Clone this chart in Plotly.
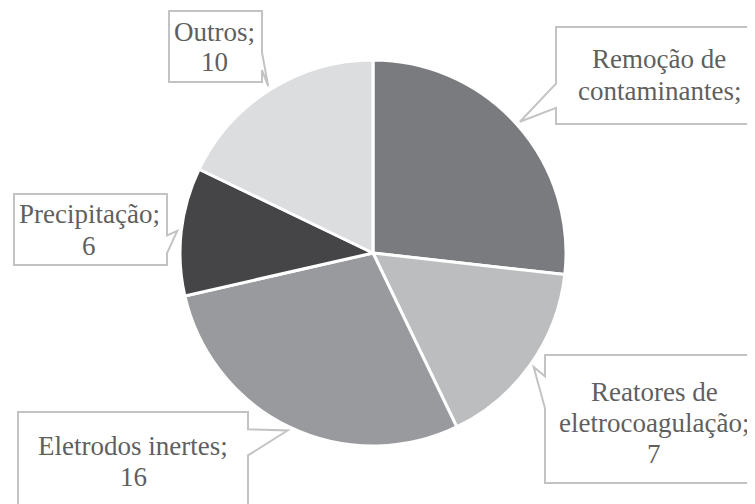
import math
import plotly.graph_objects as go

# ---- data ----
categories = ["Remoção de contaminantes", "Reatores de eletrocoagulação",
              "Eletrodos inertes", "Precipitação", "Outros"]
slice_values = [15, 9, 16, 6, 10]          # slice sizes as drawn
label_lines = [["Remoção de", "contaminantes;"],
               ["Reatores de", "eletrocoagulação;", "7"],
               ["Eletrodos inertes;", "16"],
               ["Precipitação;", "6"],
               ["Outros;", "10"]]
colors = ["#7a7b7e", "#bcbdbf", "#989a9d", "#454547", "#dcdddf"]

# ---- layout (page pixels; the page body adds an 8px offset) ----
OFF = 8
W, H = 755 - OFF, 504 - OFF
CX, CY, R = 373, 253, 193
boxes = [(556, 27, 772, 124), (545, 355, 772, 483), (18, 412, 248, 516),
         (14, 194, 167, 265), (169, 11, 262, 82)]
text_x = [659, 654, 133, 89, 214]
first_baseline = [68, 401.5, 455, 223, 41.5]
line_step = [32, 31, 31, 32, 30]
FONT_SIZE = 27
FONT = "Liberation Serif"


def px(x, y):
    return (x - OFF) / W, 1 - (y - OFF) / H


(dx0, dy1), (dx1, dy0) = px(CX - R, CY - R), px(CX + R, CY + R)
fig = go.Figure(go.Pie(
    labels=categories, values=slice_values, sort=False, direction="clockwise",
    rotation=0, marker=dict(colors=colors, line=dict(color="white", width=3)),
    textinfo="none", hoverinfo="label+value", showlegend=False,
    domain=dict(x=[dx0, dx1], y=[dy0, dy1]),
))

total = sum(slice_values)
cum = 0
shapes, annotations = [], []
for i, v in enumerate(slice_values):
    mid = (cum + v / 2) / total * 2 * math.pi
    cum += v
    rt = R + 4
    tx, ty = CX + rt * math.sin(mid), CY - rt * math.cos(mid)
    x0, y0, x1, y1 = boxes[i]
    bw, bh = x1 - x0, y1 - y0
    bcx, bcy = (x0 + x1) / 2, (y0 + y1) / 2
    dx, dy = (tx - bcx) / bw, (ty - bcy) / bh
    pts = [(x0, y0)]
    if abs(dy) >= abs(dx):
        fr = (7 / 12, 10 / 12) if dx > 0 else (2 / 12, 5 / 12)
        xa, xb = x0 + fr[0] * bw, x0 + fr[1] * bw
        if dy < 0:  # top
            pts += [(xa, y0), (tx, ty), (xb, y0), (x1, y0), (x1, y1), (x0, y1)]
        else:       # bottom
            pts += [(x1, y0), (x1, y1), (xb, y1), (tx, ty), (xa, y1), (x0, y1)]
    else:
        fr = (7 / 12, 10 / 12) if dy > 0 else (2 / 12, 5 / 12)
        ya, yb = y0 + fr[0] * bh, y0 + fr[1] * bh
        if dx > 0:  # right
            pts += [(x1, y0), (x1, ya), (tx, ty), (x1, yb), (x1, y1), (x0, y1)]
        else:       # left
            pts += [(x1, y0), (x1, y1), (x0, y1), (x0, yb), (tx, ty), (x0, ya)]
    path = "M " + " L ".join("%.5f %.5f" % px(*p) for p in pts) + " Z"
    shapes.append(dict(type="path", xref="paper", yref="paper", path=path,
                       fillcolor="white", line=dict(color="#c3c3c3", width=2),
                       layer="above"))
    for j, line in enumerate(label_lines[i]):
        base = first_baseline[i] + j * line_step[i]
        ax, ay = px(text_x[i], base - 0.34 * FONT_SIZE)
        annotations.append(dict(x=ax, y=ay, xref="paper", yref="paper",
                                text=line, showarrow=False,
                                xanchor="center", yanchor="middle",
                                font=dict(family=FONT, size=FONT_SIZE,
                                          color="#5f5f5f")))

fig.update_layout(width=W, height=H, margin=dict(l=0, r=0, t=0, b=0),
                  paper_bgcolor="white", plot_bgcolor="white",
                  shapes=shapes, annotations=annotations)
fig.write_html("out.html")
